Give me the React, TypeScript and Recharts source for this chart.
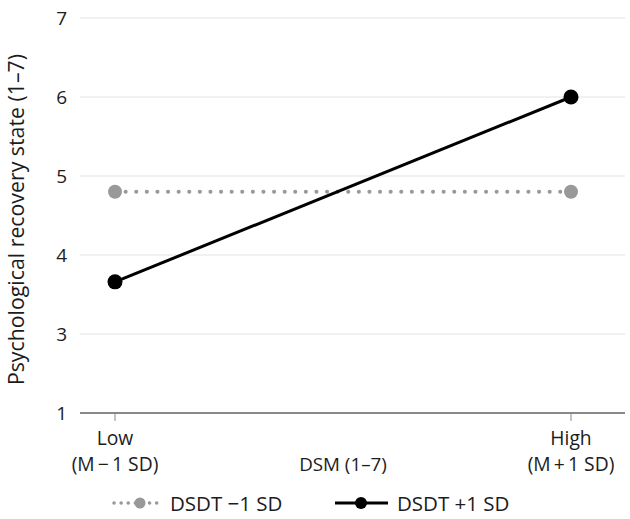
import React from 'react';
import { LineChart, Line, XAxis, YAxis, CartesianGrid, Legend } from 'recharts';

const categories = ['Low', 'High'];
const categorySubLabels = ['(M\u2009\u2212\u20091 SD)', '(M\u2009+\u20091 SD)'];
const seriesLowName = 'DSDT \u22121 SD';
const seriesHighName = 'DSDT +1 SD';
const seriesLow = [4.8, 4.8];
const seriesHigh = [3.66, 6.0];
const yTickValues = [2, 3, 4, 5, 6, 7];
const yTickLabels = ['1', '3', '4', '5', '6', '7'];
const xAxisTitle = 'DSM (1\u20137)';
const yAxisTitle = 'Psychological recovery state (1\u20137)';

const data = categories.map((c, i) => ({
  cat: c,
  sub: categorySubLabels[i],
  low: seriesLow[i],
  high: seriesHigh[i],
}));

const FONT = '"Open Sans", "Noto Sans", sans-serif';
const TEXT = '#1c1c1c';
const GREY = '#999999';
const PAD_L = 35;
const PAD_R = 54;

const XTick = (props: any) => {
  const { x, y, payload } = props;
  const idx = categories.indexOf(payload.value);
  return (
    <text x={x} y={y} textAnchor="middle" fontSize={19.3} fill={TEXT} fontFamily={FONT}>
      <tspan x={x} dy={22}>{payload.value}</tspan>
      <tspan x={x} dy={26}>{categorySubLabels[idx]}</tspan>
    </text>
  );
};

const XLabel = (props: any) => {
  const vb = props.viewBox;
  const cx = vb.x + PAD_L + (vb.width - PAD_L - PAD_R) / 2;
  return (
    <text x={cx} y={vb.y + 58} textAnchor="middle" fontSize={18.8} fill={TEXT} fontFamily={FONT}>
      {xAxisTitle}
    </text>
  );
};

const YLabel = (props: any) => {
  const vb = props.viewBox;
  const cy = vb.y + vb.height / 2 + 4;
  return (
    <text
      x={15}
      y={cy}
      transform={`rotate(-90 15 ${cy})`}
      textAnchor="middle"
      dominantBaseline="central"
      fontSize={21.3}
      fill={TEXT}
      fontFamily={FONT}
    >
      {yAxisTitle}
    </text>
  );
};

const LegendContent = () => (
  <svg width={630} height={30} style={{ display: 'block' }}>
    <line x1={114} y1={15} x2={162} y2={15} stroke={GREY} strokeWidth={3.5} strokeDasharray="0.1 7" strokeLinecap="round" />
    <circle cx={140} cy={15} r={5.5} fill={GREY} />
    <text x={170} y={15} dominantBaseline="central" fontSize={20.5} fill={TEXT} fontFamily={FONT}>{seriesLowName}</text>
    <line x1={335} y1={15} x2={388} y2={15} stroke="#000" strokeWidth={3} />
    <circle cx={361} cy={15} r={6} fill="#000" />
    <text x={397} y={15} dominantBaseline="central" fontSize={20.5} fill={TEXT} fontFamily={FONT}>{seriesHighName}</text>
  </svg>
);

export default function App() {
  return (
    <div style={{ position: 'absolute', left: 0, top: 0, width: 630, height: 519, background: '#fff' }}>
      <LineChart width={630} height={519} data={data} margin={{ top: 18, right: 5, bottom: 0, left: 0 }}>
        <CartesianGrid vertical={false} stroke="#e4e4e4" strokeWidth={1.2} />
        <XAxis
          dataKey="cat"
          height={106}
          padding={{ left: PAD_L, right: PAD_R }}
          axisLine={{ stroke: '#666', strokeWidth: 1.3 }}
          tickLine={{ stroke: '#888', strokeWidth: 1 }}
          tickSize={8}
          tick={<XTick />}
          interval={0}
          label={<XLabel />}
        />
        <YAxis
          width={80}
          domain={[2, 7]}
          ticks={yTickValues}
          tickFormatter={(v: number) => yTickLabels[yTickValues.indexOf(v)]}
          axisLine={false}
          tickLine={false}
          tickSize={0}
          tickMargin={13}
          tick={{ fontSize: 19, fill: TEXT, fontFamily: FONT }}
          label={<YLabel />}
        />
        <Line
          type="linear"
          dataKey="low"
          name={seriesLowName}
          stroke={GREY}
          strokeWidth={4}
          strokeDasharray="0.1 10.5"
          strokeLinecap="round"
          dot={{ r: 7, fill: GREY, stroke: 'none' }}
          activeDot={false}
          isAnimationActive={false}
        />
        <Line
          type="linear"
          dataKey="high"
          name={seriesHighName}
          stroke="#000"
          strokeWidth={3}
          dot={{ r: 7.5, fill: '#000', stroke: 'none' }}
          activeDot={false}
          isAnimationActive={false}
        />
        <Legend
          layout="vertical"
          align="center"
          verticalAlign="middle"
          wrapperStyle={{ top: 488, left: 0, width: 630, height: 30 }}
          content={<LegendContent />}
        />
      </LineChart>
    </div>
  );
}
